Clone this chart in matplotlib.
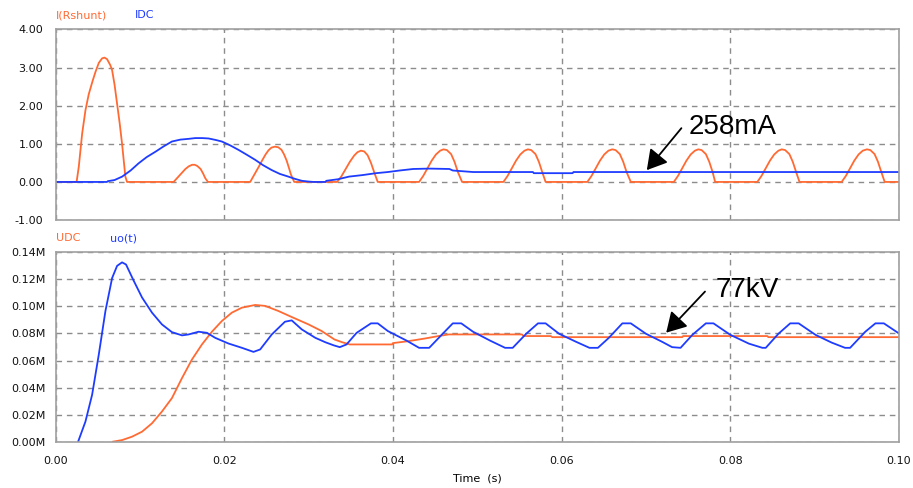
import numpy as np
import matplotlib
matplotlib.use('Agg')
import matplotlib.pyplot as plt
from matplotlib.ticker import FuncFormatter

# ---------------------------------------------------------------
# values (time in ms)
# ---------------------------------------------------------------
# I(Rshunt) [A] - diode current pulses
ishunt_t = [0, 2.5, 2.76, 3.16, 3.55, 3.94, 4.4, 4.73, 5.13, 5.52, 5.8, 6.11,
            6.5, 6.71, 7.0, 7.3, 7.6, 7.89, 8.1, 8.28, 8.48,
            14.0, 14.5, 15.0, 15.4, 15.8, 16.2, 16.5, 16.8, 17.2, 17.5, 17.75, 18.07,
            23.08, 23.67, 24.1, 24.46, 24.9, 25.25, 25.6, 26.0, 26.4, 26.8, 27.1,
            27.4, 27.7, 27.9, 28.3,
            33.4, 33.9, 34.4, 34.9, 35.4, 35.8, 36.2, 36.6, 37.0, 37.4, 37.8, 38.2,
            43.1, 43.6, 44.1, 44.6, 45.1, 45.6, 46.0, 46.4, 46.9, 47.3, 47.7, 48.2,
            53.1, 53.6, 54.1, 54.6, 55.1, 55.6, 56.0, 56.4, 56.9, 57.3, 57.7, 58.1,
            63.05, 63.55, 64.05, 64.55, 65.05, 65.55, 66.0, 66.4, 66.9, 67.3, 67.7, 68.2,
            73.3, 73.8, 74.3, 74.8, 75.3, 75.8, 76.2, 76.6, 77.1, 77.5, 77.9, 78.2,
            83.2, 83.7, 84.2, 84.7, 85.2, 85.7, 86.1, 86.5, 87.0, 87.4, 87.8, 88.2,
            93.2, 93.7, 94.2, 94.7, 95.2, 95.7, 96.2, 96.6, 97.1, 97.5, 97.9, 98.3,
            100.0]
ishunt_v = [0, 0, 0.40, 1.27, 1.88, 2.30, 2.65, 2.88, 3.12, 3.24, 3.26, 3.22,
            3.06, 2.93, 2.55, 2.06, 1.55, 1.0, 0.55, 0.14, 0,
            0, 0.12, 0.24, 0.34, 0.41, 0.45, 0.45, 0.42, 0.34, 0.22, 0.10, 0,
            0, 0.23, 0.40, 0.55, 0.72, 0.83, 0.90, 0.925, 0.91, 0.84, 0.72,
            0.56, 0.35, 0.20, 0,
            0, 0.15, 0.34, 0.53, 0.69, 0.78, 0.82, 0.80, 0.70, 0.50, 0.24, 0,
            0, 0.16, 0.36, 0.56, 0.72, 0.82, 0.855, 0.835, 0.73, 0.53, 0.26, 0,
            0, 0.16, 0.36, 0.56, 0.72, 0.82, 0.855, 0.835, 0.73, 0.53, 0.26, 0,
            0, 0.16, 0.36, 0.56, 0.72, 0.82, 0.855, 0.835, 0.73, 0.53, 0.26, 0,
            0, 0.16, 0.36, 0.56, 0.72, 0.82, 0.855, 0.835, 0.73, 0.53, 0.26, 0,
            0, 0.16, 0.36, 0.56, 0.72, 0.82, 0.855, 0.835, 0.73, 0.53, 0.26, 0,
            0, 0.16, 0.36, 0.56, 0.72, 0.82, 0.855, 0.835, 0.73, 0.53, 0.26, 0,
            0]

# IDC [A]
idc_t = [0, 6.1, 6.2, 7.0, 7.9, 8.9, 9.86, 10.8, 11.83, 12.8, 13.8, 14.8, 15.78,
         16.57, 17.4, 18.15, 19.0, 19.72, 20.7, 21.7, 22.7, 23.67, 24.6, 25.64,
         26.6, 27.6, 28.4, 29.2, 30.0, 30.6, 32.0, 32.1, 33.47, 34.8, 36.4, 38.0,
         39.4, 40.8, 42.4, 44.3, 46.7, 47.1, 49.5, 56.6, 56.7, 61.3, 61.4, 100.0]
idc_v = [0, 0, 0.02, 0.05, 0.14, 0.30, 0.49, 0.65, 0.79, 0.93, 1.06, 1.11, 1.13,
         1.15, 1.15, 1.14, 1.10, 1.06, 0.96, 0.84, 0.71, 0.58, 0.44, 0.31,
         0.21, 0.14, 0.08, 0.03, 0.01, 0, 0, 0.03, 0.07, 0.14, 0.18, 0.23,
         0.26, 0.30, 0.34, 0.35, 0.34, 0.30, 0.26, 0.26, 0.23, 0.23, 0.26, 0.26]

# UDC [MV]
udc_t = [6.8, 7.9, 9.07, 10.26, 11.44, 12.62, 13.8, 15.0, 16.17, 17.36, 18.54,
         19.72, 20.9, 22.1, 23.67, 24.85, 26.4, 28.0, 30.0, 31.56, 33.06, 34.0,
         34.9, 39.9, 40.0, 41.8, 43.8, 45.4, 46.6, 55.3, 55.5, 58.7, 58.9, 74.3,
         74.4, 84.4, 84.5, 100.0]
udc_v = [0, 0.0012, 0.0037, 0.0074, 0.0136, 0.0223, 0.0322, 0.0471, 0.0607,
         0.0719, 0.0813, 0.0892, 0.0954, 0.0991, 0.1011, 0.1004, 0.0967, 0.0922,
         0.0867, 0.0818, 0.0756, 0.0735, 0.0719, 0.0719, 0.0729, 0.0743, 0.0763,
         0.0781, 0.0793, 0.0793, 0.0781, 0.0781, 0.0773, 0.0773, 0.0781, 0.0781,
         0.0773, 0.0773]

# uo(t) [MV]
uo_t = [2.68, 3.55, 4.34, 5.13, 5.92, 6.71, 7.3, 7.89, 8.36, 9.27, 10.26, 11.44,
        12.62, 13.8, 15.0, 15.78, 16.96, 17.95, 18.93, 20.5, 22.1, 23.47, 24.26,
        25.64, 27.2, 28.0, 29.2, 30.8, 32.0, 33.0, 33.7, 34.5, 35.7, 37.4, 38.2,
        39.4, 41.6, 43.1, 44.3, 45.9, 47.1, 48.1, 49.5, 51.5, 53.3, 54.2, 55.8,
        57.2, 58.1, 59.7, 61.7, 63.3, 64.3, 65.6, 67.2, 68.2, 70.0, 71.9, 73.1,
        74.1, 75.5, 77.1, 78.0, 80.0, 82.2, 83.8, 84.2, 85.7, 87.1, 88.1, 90.1,
        92.0, 93.6, 94.2, 96.0, 97.2, 98.2, 100.0]
uo_v = [0, 0.0149, 0.0347, 0.0644, 0.0967, 0.121, 0.130, 0.1326, 0.131, 0.119,
        0.1066, 0.0954, 0.0867, 0.081, 0.0786, 0.0793, 0.0813, 0.0805, 0.0768,
        0.0726, 0.0694, 0.0664, 0.0682, 0.0793, 0.0887, 0.0897, 0.083, 0.0768,
        0.0735, 0.0712, 0.0699, 0.0719, 0.0805, 0.0875, 0.0875, 0.0818, 0.0748,
        0.0694, 0.0694, 0.0798, 0.0875, 0.0875, 0.0813, 0.0748, 0.0694, 0.0694,
        0.0798, 0.0875, 0.0875, 0.0798, 0.0739, 0.0694, 0.0694, 0.0768, 0.0875,
        0.0875, 0.0798, 0.0739, 0.0699, 0.0694, 0.0790, 0.0875, 0.0875, 0.0790,
        0.0725, 0.0694, 0.0694, 0.0798, 0.0875, 0.0875, 0.0790, 0.0733, 0.0694,
        0.0694, 0.0813, 0.0875, 0.0875, 0.0800]

ORANGE = '#ff6a33'
BLUE = '#1e3cff'
GRID = '#8c8c8c'
FRAME = '#a0a0a0'

ms = 1e-3
fig = plt.figure(figsize=(9.13, 4.88), dpi=100)
ax1 = fig.add_axes([0.0608, 0.549, 0.9239, 0.3908])
ax2 = fig.add_axes([0.0608, 0.0949, 0.9239, 0.388])

def style(ax):
    for s in ax.spines.values():
        s.set_color(FRAME)
        s.set_linewidth(1.2)
    ax.set_xlim(0, 0.1)
    ax.set_xticks([0, 0.02, 0.04, 0.06, 0.08, 0.10])
    ax.grid(True, color=GRID, linestyle=(0, (4, 3.5)), linewidth=1.0)
    ax.tick_params(length=0, labelsize=8, colors='#111111')
    ax.set_axisbelow(True)

# ---- top: currents ----
style(ax1)
ax1.plot(np.array(ishunt_t) * ms, ishunt_v, color=ORANGE, lw=1.3)
ax1.plot(np.array(idc_t) * ms, idc_v, color=BLUE, lw=1.3)
ax1.set_ylim(-1, 4)
ax1.set_yticks([-1, 0, 1, 2, 3, 4])
ax1.yaxis.set_major_formatter(FuncFormatter(lambda v, p: '%.2f' % v))
ax1.tick_params(axis='y', pad=9)
ax1.set_xticklabels([])
ax1.text(0, 1.075, 'I(Rshunt)', color=ORANGE, fontsize=8,
         transform=ax1.transAxes, va='center', ha='left')
ax1.text(0.094, 1.075, 'IDC', color=BLUE, fontsize=8,
         transform=ax1.transAxes, va='center', ha='left')
ax1.annotate('', xy=(0.0701, 0.31), xytext=(0.0742, 1.41),
             arrowprops=dict(arrowstyle='-|>,head_length=0.6,head_width=0.35',
                             color='black', lw=1.3, mutation_scale=20,
                             shrinkA=0, shrinkB=0))
ax1.text(0.0751, 1.25, '258mA', fontsize=20, family='Liberation Sans',
         ha='left', va='baseline')

# ---- bottom: voltages ----
style(ax2)
ax2.plot(np.array(udc_t) * ms, udc_v, color=ORANGE, lw=1.3)
ax2.plot(np.array(uo_t) * ms, uo_v, color=BLUE, lw=1.3)
ax2.set_ylim(0, 0.14)
ax2.set_yticks([0, 0.02, 0.04, 0.06, 0.08, 0.10, 0.12, 0.14])
ax2.yaxis.set_major_formatter(FuncFormatter(lambda v, p: '%.2fM' % v))
ax2.xaxis.set_major_formatter(FuncFormatter(lambda v, p: '%.2f' % v))
ax2.tick_params(axis='y', pad=7)
ax2.tick_params(axis='x', pad=10)
ax2.set_xlabel('Time  (s)', fontsize=8, labelpad=6)
ax2.text(0, 1.075, 'UDC', color=ORANGE, fontsize=8,
         transform=ax2.transAxes, va='center', ha='left')
ax2.text(0.0646, 1.075, 'uo(t)', color=BLUE, fontsize=8,
         transform=ax2.transAxes, va='center', ha='left')
ax2.annotate('', xy=(0.0724, 0.0806), xytext=(0.0770, 0.111),
             arrowprops=dict(arrowstyle='-|>,head_length=0.6,head_width=0.35',
                             color='black', lw=1.3, mutation_scale=20,
                             shrinkA=0, shrinkB=0))
ax2.text(0.0782, 0.1071, '77kV', fontsize=20, family='Liberation Sans',
         ha='left', va='baseline')

fig.savefig('out.png', dpi=100)
